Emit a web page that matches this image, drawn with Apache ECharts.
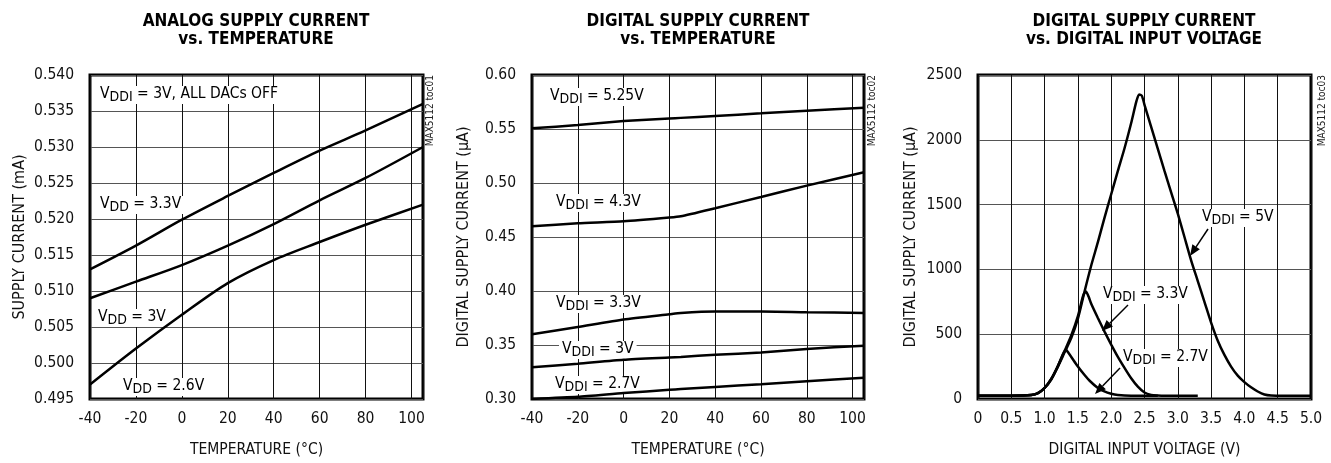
<!DOCTYPE html>
<html><head><meta charset="utf-8">
<script src="https://cdn.jsdelivr.net/npm/echarts/dist/echarts.min.js"></script>
<style>html,body{margin:0;background:#fff}#c{width:1331px;height:463px}</style>
</head><body><div id="c"></div>
<script>
// ---------- DATA ----------
// Chart 1: Analog supply current vs temperature (mA)
const tempA = [-40, -20, 0, 20, 40, 60, 80, 105];
const analogVdd33 = [0.5130, 0.5163, 0.5199, 0.5232, 0.5264, 0.5295, 0.5323, 0.5360];
const analogVdd30 = [0.5090, 0.5113, 0.5136, 0.5163, 0.5193, 0.5226, 0.5257, 0.5300];
const analogVdd26 = [0.4970, 0.5020, 0.5067, 0.5111, 0.5143, 0.5168, 0.5192, 0.5220];
// Chart 2: Digital supply current vs temperature (uA)
const tempD = [-40, -20, 0, 20, 25, 40, 60, 80, 105];
const digVddi525 = [0.5506, 0.5536, 0.5573, 0.5597, 0.5603, 0.5621, 0.5645, 0.5670, 0.5697];
const digVddi43  = [0.4600, 0.4627, 0.4645, 0.4680, 0.4692, 0.4767, 0.4870, 0.4976, 0.5100];
const digVddi33  = [0.3600, 0.3667, 0.3736, 0.3785, 0.3797, 0.3810, 0.3810, 0.3803, 0.3797];
const digVddi30  = [0.3294, 0.3327, 0.3364, 0.3385, 0.3390, 0.3409, 0.3430, 0.3464, 0.3494];
const digVddi27  = [0.3000, 0.3020, 0.3055, 0.3085, 0.3092, 0.3112, 0.3136, 0.3164, 0.3197];
// Chart 3: Digital supply current vs digital input voltage (uA)
const vin5 = [0, 0.5, 0.8, 0.9, 1.0, 1.1, 1.2, 1.3, 1.4, 1.5, 1.6, 1.7, 1.8, 1.9, 2.0, 2.1, 2.2, 2.3, 2.38, 2.42, 2.46, 2.5, 2.6, 2.7, 2.8, 2.9, 3.0, 3.1, 3.2, 3.3, 3.4, 3.5, 3.6, 3.7, 3.8, 3.9, 4.0, 4.1, 4.2, 4.3, 4.4, 4.6, 5.0];
const idd5 = [25, 25, 30, 45, 85, 150, 250, 360, 470, 620, 830, 1030, 1210, 1400, 1580, 1760, 1935, 2130, 2300, 2350, 2340, 2270, 2100, 1930, 1760, 1595, 1430, 1250, 1070, 910, 750, 590, 450, 340, 250, 180, 130, 90, 58, 35, 27, 25, 25];
const vin33 = [0, 0.5, 0.8, 0.9, 1.0, 1.1, 1.2, 1.3, 1.4, 1.5, 1.58, 1.62, 1.66, 1.7, 1.8, 1.9, 2.0, 2.1, 2.2, 2.3, 2.4, 2.5, 2.6, 2.7, 2.8, 3.3];
const idd33 = [25, 25, 30, 45, 85, 155, 255, 370, 490, 640, 800, 830, 790, 735, 625, 520, 420, 325, 240, 160, 95, 50, 32, 27, 25, 25];
const vin27 = [0, 0.5, 0.8, 0.9, 1.0, 1.1, 1.2, 1.28, 1.32, 1.36, 1.48, 1.6, 1.68, 1.8, 1.88, 2.0, 2.1, 2.3, 2.7];
const idd27 = [25, 25, 30, 45, 85, 155, 255, 350, 380, 355, 265, 185, 139, 85, 63, 40, 30, 25, 25];

// ---------- CHART ----------
const F = '"Liberation Sans Narrow","DejaVu Sans Condensed","Arial Narrow",sans-serif';
const chart = echarts.init(document.getElementById('c'));
const zip = (xs, ys) => xs.map((x, i) => [x, ys[i]]);

const gridBase = { show: true, borderWidth: 3, borderColor: '#000', backgroundColor: 'transparent', top: 75, height: 330 };
const axLabel = { color: '#111', fontFamily: F, fontSize: 15.5 };
function xAx(i, min, max, interval, fmt, name) {
  return { type: 'value', gridIndex: i, min, max, interval,
    axisLine: { show: false }, axisTick: { show: false },
    axisLabel: Object.assign({ margin: 12, formatter: fmt, showMaxLabel: max % interval === 0 ? true : false }, axLabel),
    splitLine: { show: true, lineStyle: { color: '#111', width: 1 } },
    name, nameLocation: 'middle', nameGap: 43,
    nameTextStyle: { color: '#111', fontFamily: F, fontSize: 15.5 } };
}
function yAx(i, min, max, interval, fmt, name, gap) {
  return { type: 'value', gridIndex: i, min, max, interval,
    axisLine: { show: false }, axisTick: { show: false },
    axisLabel: Object.assign({ margin: 16, formatter: fmt }, axLabel),
    splitLine: { show: true, lineStyle: { color: '#555', width: 1 } },
    name, nameLocation: 'middle', nameGap: gap,
    nameTextStyle: { color: '#111', fontFamily: F, fontSize: 16 } };
}
function ln(xi, data, smooth) {
  return { type: 'line', xAxisIndex: xi, yAxisIndex: xi, data, symbol: 'none', smooth: smooth, z: 5,
    lineStyle: { color: '#000', width: 2.5 }, silent: true, animation: false };
}

const rich = {
  n: { fontSize: 15.5, fontFamily: F, fill: '#000', lineHeight: 18, verticalAlign: 'top' },
  s: { fontSize: 14, fontFamily: F, fill: '#000', lineHeight: 18, padding: [4, 0, 0, 0], verticalAlign: 'top' }
};
function lbl(x, y, pre, sb, post) {
  return { type: 'text', x, y, z: 1,
    style: { text: `{n|${pre}}{s|${sb}}{n|${post}}`, rich, backgroundColor: '#fff', padding: [0, 3, 0, 3],
      align: 'left', verticalAlign: 'middle', textAlign: 'left', textVerticalAlign: 'middle' } };
}
function title(x, y, t) {
  return { type: 'text', x, y, z: 100,
    style: { text: t, fontFamily: F, fontSize: 17, fontWeight: 'bold', fill: '#000',
      align: 'center', verticalAlign: 'middle', textAlign: 'center', textVerticalAlign: 'middle' } };
}
function mark(x, y, t) {
  return { type: 'text', x, y, rotation: Math.PI / 2, z: 100,
    style: { text: t, fontFamily: F, fontSize: 10, fill: '#222',
      align: 'right', verticalAlign: 'middle', textAlign: 'right', textVerticalAlign: 'middle' } };
}
function arrow(x1, y1, x2, y2) {
  const a = Math.atan2(y2 - y1, x2 - x1), L = 11, W = 4.5;
  const bx = x2 - L * Math.cos(a), by = y2 - L * Math.sin(a);
  const px = -Math.sin(a) * W, py = Math.cos(a) * W;
  return [
    { type: 'line', z: 100, shape: { x1, y1, x2: bx, y2: by }, style: { stroke: '#000', lineWidth: 1.5 } },
    { type: 'polygon', z: 100, shape: { points: [[x2, y2], [bx + px, by + py], [bx - px, by - py]] }, style: { fill: '#000' } }
  ];
}

const option = {
  animation: false,
  backgroundColor: '#fff',
  grid: [
    Object.assign({ left: 90, width: 333 }, gridBase),
    Object.assign({ left: 532, width: 332 }, gridBase),
    Object.assign({ left: 978, width: 333 }, gridBase)
  ],
  xAxis: [
    xAx(0, -40, 105, 20, v => String(v), 'TEMPERATURE (°C)'),
    xAx(1, -40, 105, 20, v => String(v), 'TEMPERATURE (°C)'),
    xAx(2, 0, 5, 0.5, v => v === 0 ? '0' : v.toFixed(1), 'DIGITAL INPUT VOLTAGE (V)')
  ],
  yAxis: [
    yAx(0, 0.495, 0.540, 0.005, v => v.toFixed(3), 'SUPPLY CURRENT (mA)', 62),
    yAx(1, 0.30, 0.60, 0.05, v => v.toFixed(2), 'DIGITAL SUPPLY CURRENT (µA)', 60),
    yAx(2, 0, 2500, 500, v => String(v), 'DIGITAL SUPPLY CURRENT (µA)', 59)
  ],
  series: [
    ln(0, zip(tempA, analogVdd33), 0.3),
    ln(0, zip(tempA, analogVdd30), 0.3),
    ln(0, zip(tempA, analogVdd26), 0.3),
    ln(1, zip(tempD, digVddi525), 0.2),
    ln(1, zip(tempD, digVddi43), 0.2),
    ln(1, zip(tempD, digVddi33), 0.2),
    ln(1, zip(tempD, digVddi30), 0.2),
    ln(1, zip(tempD, digVddi27), 0.2),
    ln(2, zip(vin5, idd5), 0.25),
    ln(2, zip(vin33, idd33), 0.25),
    ln(2, zip(vin27, idd27), 0.25)
  ],
  graphic: [
    title(256, 22, 'ANALOG SUPPLY CURRENT'), title(256, 40, 'vs. TEMPERATURE'),
    title(698, 22, 'DIGITAL SUPPLY CURRENT'), title(698, 40, 'vs. TEMPERATURE'),
    title(1144, 22, 'DIGITAL SUPPLY CURRENT'), title(1144, 40, 'vs. DIGITAL INPUT VOLTAGE'),
    mark(430, 75, 'MAX5112 toc01'), mark(872, 75, 'MAX5112 toc02'), mark(1322, 75, 'MAX5112 toc03'),
    lbl(97, 95, 'V', 'DDI', ' = 3V, ALL DACs OFF'),
    lbl(97, 205, 'V', 'DD', ' = 3.3V'),
    lbl(95, 318, 'V', 'DD', ' = 3V'),
    lbl(120, 387, 'V', 'DD', ' = 2.6V'),
    lbl(547, 97, 'V', 'DDI', ' = 5.25V'),
    lbl(553, 203, 'V', 'DDI', ' = 4.3V'),
    lbl(553, 304, 'V', 'DDI', ' = 3.3V'),
    lbl(559, 350, 'V', 'DDI', ' = 3V'),
    lbl(552, 385, 'V', 'DDI', ' = 2.7V'),
    lbl(1199, 218, 'V', 'DDI', ' = 5V'),
    lbl(1100, 295, 'V', 'DDI', ' = 3.3V'),
    lbl(1120, 358, 'V', 'DDI', ' = 2.7V'),
    ...arrow(1208, 229, 1190, 256),
    ...arrow(1128, 305, 1102, 331),
    ...arrow(1120, 368, 1095, 394)
  ]
};
chart.setOption(option);
</script></body></html>
